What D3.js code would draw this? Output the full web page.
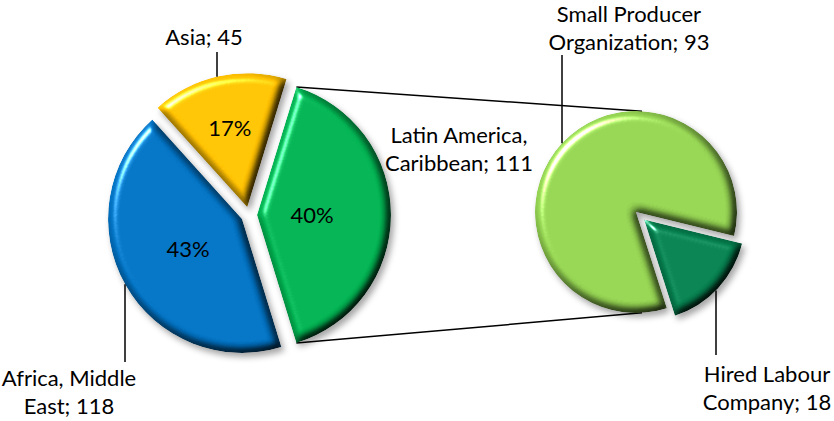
<!DOCTYPE html>
<html>
<head>
<meta charset="utf-8">
<script src="https://cdn.jsdelivr.net/npm/d3@7/dist/d3.min.js"></script>
<style>
  html, body { margin: 0; padding: 0; background: #fff; }
  svg { display: block; }
  text { font-family: Lato, "Open Sans", "Liberation Sans", sans-serif; fill: #000; }
</style>
</head>
<body>
<svg id="chart" width="834" height="421"></svg>
<script>
// Main pie: regions (the first slice is the one expanded on the right)
const regionNames = ["Latin America, Caribbean", "Africa, Middle East", "Asia"];
const regionValues = [111, 118, 45];
const regionPercentLabels = ["40%", "43%", "17%"];
const regionColors = ["#00B050", "#0070C0", "#FFC000"];

// Secondary pie: breakdown of Latin America, Caribbean
const splitNames = ["Small Producer Organization", "Hired Labour Company"];
const splitValues = [93, 18];
const splitColors = ["#92D050", "#057F4E"];

// Geometry
const main = { cx: 249, cy: 215, r: 134, explode: 8 };
const side = { cx: 636, cy: 212, r: 101, explode: [0, 11] };
const deg = Math.PI / 180;

// Label placement (anchor centre x, first baseline y, leader x, leader end y)
const regionLabelLayout = [
  { x: 459, y: 143, leader: null },
  { x: 69,  y: 386, leader: { x: 125, end: 362 } },
  { x: 204, y: 45,  leader: { x: 217, end: 52 } }
];
const splitLabelLayout = [
  { x: 629, y: 22,  leader: { x: 562, end: 55 } },
  { x: 767, y: 382, leader: { x: 716, end: 355 } }
];
const percentRadius = [55, 62, 81];
const lineHeight = 28;
const fontSize = 22;

const svg = d3.select("#chart");
const defs = svg.append("defs");

// Bevel + gloss + soft shadow for the slices
const f = defs.append("filter").attr("id", "bevel")
  .attr("x", "-15%").attr("y", "-15%").attr("width", "135%").attr("height", "135%")
  .attr("color-interpolation-filters", "sRGB");
f.append("feGaussianBlur").attr("in", "SourceAlpha").attr("stdDeviation", 4).attr("result", "blur");
const diff = f.append("feDiffuseLighting").attr("in", "blur").attr("surfaceScale", 7)
  .attr("diffuseConstant", 1.16).attr("lighting-color", "#fff").attr("result", "diff");
diff.append("feDistantLight").attr("azimuth", 225).attr("elevation", 60);
f.append("feComposite").attr("in", "SourceGraphic").attr("in2", "diff").attr("operator", "arithmetic")
  .attr("k1", 1).attr("k2", 0).attr("k3", 0).attr("k4", 0).attr("result", "shaded");
const spec = f.append("feSpecularLighting").attr("in", "blur").attr("surfaceScale", 7)
  .attr("specularConstant", 1.1).attr("specularExponent", 30).attr("lighting-color", "#fff").attr("result", "spec");
spec.append("feDistantLight").attr("azimuth", 225).attr("elevation", 35);
f.append("feComposite").attr("in", "spec").attr("in2", "SourceAlpha").attr("operator", "in").attr("result", "specIn");
f.append("feComposite").attr("in", "shaded").attr("in2", "specIn").attr("operator", "arithmetic")
  .attr("k1", 0).attr("k2", 1).attr("k3", 0.9).attr("k4", 0).attr("result", "lit");
f.append("feComposite").attr("in", "lit").attr("in2", "SourceAlpha").attr("operator", "in").attr("result", "litIn");
f.append("feGaussianBlur").attr("in", "SourceAlpha").attr("stdDeviation", 3).attr("result", "sblur");
f.append("feOffset").attr("in", "sblur").attr("dx", 3).attr("dy", 4).attr("result", "soff");
f.append("feFlood").attr("flood-color", "#000").attr("flood-opacity", 0.35).attr("result", "sc");
f.append("feComposite").attr("in", "sc").attr("in2", "soff").attr("operator", "in").attr("result", "shadow");
const merge = f.append("feMerge");
merge.append("feMergeNode").attr("in", "shadow");
merge.append("feMergeNode").attr("in", "litIn");

// --- Main pie: split slice centred at 3 o'clock ---
const mainTotal = d3.sum(regionValues);
const mainStart = Math.PI / 2 - Math.PI * regionValues[0] / mainTotal;
const mainPie = d3.pie().sort(null).value(d => d)
  .startAngle(mainStart).endAngle(mainStart + 2 * Math.PI);
const mainArcs = mainPie(regionValues);
const mainArc = d3.arc().innerRadius(0).outerRadius(main.r);

function apex(center, a, e) {
  const mid = (a.startAngle + a.endAngle) / 2;
  return [center.cx + e * Math.sin(mid), center.cy - e * Math.cos(mid)];
}
const mainApex = mainArcs.map(a => apex(main, a, main.explode));

// --- Secondary pie: small slice centred at ~133° ---
const sideTotal = d3.sum(splitValues);
const smallMid = 133 * deg;
const sideStart = smallMid + Math.PI * splitValues[1] / sideTotal;
const sidePie = d3.pie().sort(null).value(d => d)
  .startAngle(sideStart).endAngle(sideStart + 2 * Math.PI);
const sideArcs = sidePie(splitValues);
const sideArc = d3.arc().innerRadius(0).outerRadius(side.r);
const sideApex = sideArcs.map((a, i) => apex(side, a, side.explode[i]));

// Connector lines from the split slice edges to the secondary pie
const green = mainArcs[0];
const gA = mainApex[0];
const topFrom = [gA[0] + main.r * Math.sin(green.startAngle), gA[1] - main.r * Math.cos(green.startAngle)];
const botFrom = [gA[0] + main.r * Math.sin(green.endAngle), gA[1] - main.r * Math.cos(green.endAngle)];
const connAngle = 3.4 * deg;
const topTo = [side.cx + side.r * Math.sin(connAngle), side.cy - side.r * Math.cos(connAngle)];
const botTo = [side.cx + side.r * Math.sin(Math.PI - connAngle), side.cy - side.r * Math.cos(Math.PI - connAngle)];
svg.append("g").attr("class", "connectors")
  .selectAll("line").data([[topFrom, topTo], [botFrom, botTo]]).join("line")
  .attr("x1", d => d[0][0]).attr("y1", d => d[0][1])
  .attr("x2", d => d[1][0]).attr("y2", d => d[1][1])
  .attr("stroke", "#000").attr("stroke-width", 1.5);

// Slices
svg.append("g").attr("class", "main-pie")
  .selectAll("path").data(mainArcs).join("path")
  .attr("transform", (d, i) => `translate(${mainApex[i][0]},${mainApex[i][1]})`)
  .attr("d", mainArc)
  .attr("fill", (d, i) => regionColors[i])
  .attr("filter", "url(#bevel)");

svg.append("g").attr("class", "side-pie")
  .selectAll("path").data(sideArcs).join("path")
  .attr("transform", (d, i) => `translate(${sideApex[i][0]},${sideApex[i][1]})`)
  .attr("d", sideArc)
  .attr("fill", (d, i) => splitColors[i])
  .attr("filter", "url(#bevel)");

// Percentage labels inside the main slices
svg.append("g").attr("class", "pct")
  .selectAll("text").data(mainArcs).join("text")
  .attr("x", (d, i) => mainApex[i][0] + percentRadius[i] * Math.sin((d.startAngle + d.endAngle) / 2))
  .attr("y", (d, i) => mainApex[i][1] - percentRadius[i] * Math.cos((d.startAngle + d.endAngle) / 2))
  .attr("dy", "0.35em")
  .attr("text-anchor", "middle")
  .attr("font-size", fontSize)
  .text((d, i) => regionPercentLabels[i]);

// Category labels "Name; value", wrapped after two words
function wrapLabel(name, value) {
  const words = `${name}; ${value}`.split(" ");
  return words.length > 2 ? [words.slice(0, 2).join(" "), words.slice(2).join(" ")] : [words.join(" ")];
}

function arcYAbove(x, c, r) {
  const dx = x - c[0];
  return c[1] - Math.sqrt(Math.max(0, r * r - dx * dx));
}
function arcYBelow(x, c, r) {
  const dx = x - c[0];
  return c[1] + Math.sqrt(Math.max(0, r * r - dx * dx));
}

const labelG = svg.append("g").attr("class", "labels");
function drawLabels(names, values, layout, apexes, r) {
  names.forEach((name, i) => {
    const L = layout[i];
    const t = labelG.append("text").attr("text-anchor", "middle").attr("font-size", fontSize);
    wrapLabel(name, values[i]).forEach((line, j) => {
      t.append("tspan").attr("x", L.x).attr("y", L.y + j * lineHeight).text(line);
    });
    if (L.leader) {
      const c = apexes[i];
      const above = L.leader.end < c[1];
      const y2 = above ? arcYAbove(L.leader.x, c, r) : arcYBelow(L.leader.x, c, r);
      labelG.append("line")
        .attr("x1", L.leader.x).attr("x2", L.leader.x)
        .attr("y1", L.leader.end).attr("y2", y2)
        .attr("stroke", "#000").attr("stroke-width", 1.5);
    }
  });
}
drawLabels(regionNames, regionValues, regionLabelLayout, mainApex, main.r);
drawLabels(splitNames, splitValues, splitLabelLayout, sideApex, side.r);
</script>
</body>
</html>
